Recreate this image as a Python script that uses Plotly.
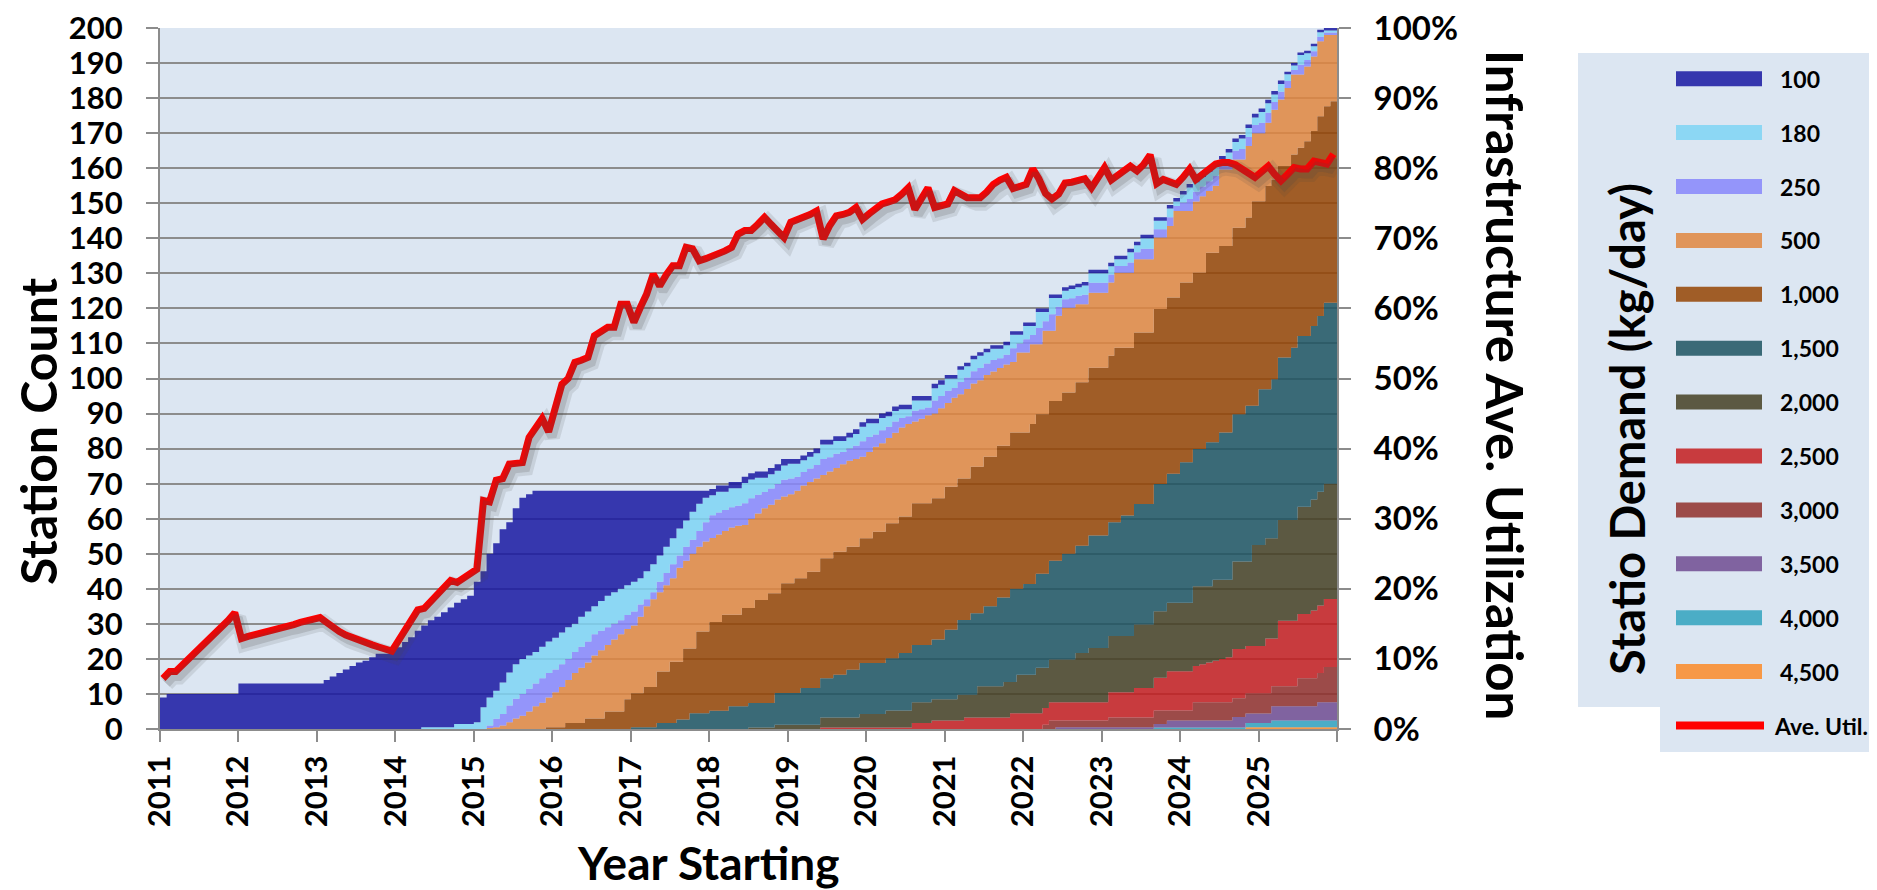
import plotly.graph_objects as go

# ---------------- data ----------------
# monthly, Jan 2011 .. Dec 2025; cumulative top edge of each stacked band
# (station count, bands stacked bottom->top: 4,500 ... 100)
top_4500 = [
    0,0,0,0,0,0,0,0,0,0,0,0,  0,0,0,0,0,0,0,0,0,0,0,0,  0,0,0,0,0,0,0,0,0,0,0,0,
    0,0,0,0,0,0,0,0,0,0,0,0,  0,0,0,0,0,0,0,0,0,0,0,0,  0,0,0,0,0,0,0,0,0,0,0,0,
    0,0,0,0,0,0,0,0,0,0,0,0,  0,0,0,0,0,0,0,0,0,0,0,0,  0,0,0,0,0,0,0,0,0,0,0,0,
    0,0,0,0,0,0,0,0,0,0,0,0,  0,0,0,0,0,0,0,0,0,0,0,0,  0,0,0,0,0,0,0,0,0,0,0,0,
    0,0,0,0,0,0,0,0,0,0,0,0,
    0,0,0,0,0,0,0,0,0,0,0.5,0.5,
    0.5,0.5,0.5,0.5,0.5,0.5,0.5,0.5,0.5,0.5,0.5,0.5,
]
top_4000 = [
    0,0,0,0,0,0,0,0,0,0,0,0,  0,0,0,0,0,0,0,0,0,0,0,0,  0,0,0,0,0,0,0,0,0,0,0,0,
    0,0,0,0,0,0,0,0,0,0,0,0,  0,0,0,0,0,0,0,0,0,0,0,0,  0,0,0,0,0,0,0,0,0,0,0,0,
    0,0,0,0,0,0,0,0,0,0,0,0,  0,0,0,0,0,0,0,0,0,0,0,0,  0,0,0,0,0,0,0,0,0,0,0,0,
    0,0,0,0,0,0,0,0,0,0,0,0,  0,0,0,0,0,0,0,0,0,0,0,0,  0,0,0,0,0,0,0,0,0,0,0,0,
    0,0,0,0,0,0,0,0,0.4,0.4,0.4,0.4,
    0.4,0.4,0.4,0.4,0.4,0.4,0.4,0.4,0.4,0.4,1.7,1.7,
    1.7,1.7,2.4,2.4,2.4,2.4,2.4,2.4,2.4,2.4,2.4,2.4,
]
top_3500 = [
    0,0,0,0,0,0,0,0,0,0,0,0,  0,0,0,0,0,0,0,0,0,0,0,0,  0,0,0,0,0,0,0,0,0,0,0,0,
    0,0,0,0,0,0,0,0,0,0,0,0,  0,0,0,0,0,0,0,0,0,0,0,0,  0,0,0,0,0,0,0,0,0,0,0,0,
    0,0,0,0,0,0,0,0,0,0,0,0,  0,0,0,0,0,0,0,0,0,0,0,0,  0,0,0,0,0,0,0,0,0,0,0,0,
    0,0,0,0,0,0,0,0,0,0,0,0,  0,0,0,0,0,0,0,0,0,0,0,0,
    0,0,0,0,0,0.5,0.5,0.5,0.5,0.5,0.5,0.5,
    0.5,0.5,0.5,0.5,0.5,0.5,0.5,0.5,1.4,1.4,2.4,2.4,
    2.4,2.4,2.4,2.4,2.4,2.4,2.4,2.4,3.4,3.4,4.4,4.4,
    4.4,4.4,6.5,6.5,6.5,6.5,6.5,6.5,6.5,7.6,7.6,7.6,
]
top_3000 = [
    0,0,0,0,0,0,0,0,0,0,0,0,  0,0,0,0,0,0,0,0,0,0,0,0,  0,0,0,0,0,0,0,0,0,0,0,0,
    0,0,0,0,0,0,0,0,0,0,0,0,  0,0,0,0,0,0,0,0,0,0,0,0,  0,0,0,0,0,0,0,0,0,0,0,0,
    0,0,0,0,0,0,0,0,0,0,0,0,  0,0,0,0,0,0,0,0,0,0,0,0,  0,0,0,0,0,0,0,0,0,0,0,0,
    0,0,0,0,0,0,0,0,0,0,0,0,  0,0,0,0,0,0,0,0,0,0,0,0,
    0,0,0,1.2,2.4,2.4,2.4,2.4,2.4,2.4,2.4,2.4,
    2.4,3.3,3.3,3.3,3.3,3.3,3.3,3.3,5.3,5.3,5.3,5.3,
    5.3,5.3,7.6,7.6,7.6,7.6,7.6,7.6,8.8,8.8,10.1,10.1,
    10.1,10.1,12.2,12.2,12.2,12.2,14.5,14.5,14.5,16,17.7,17.7,
]
top_2500 = [
    0,0,0,0,0,0,0,0,0,0,0,0,  0,0,0,0,0,0,0,0,0,0,0,0,  0,0,0,0,0,0,0,0,0,0,0,0,
    0,0,0,0,0,0,0,0,0,0,0,0,  0,0,0,0,0,0,0,0,0,0,0,0,  0,0,0,0,0,0,0,0,0,0,0,0,
    0,0,0,0,0,0,0,0,0,0,0,0,  0,0,0,0,0,0,0,0,0,0,0,0,
    0,0,0,0,0,0.4,0.4,0.4,0.4,0.4,0.4,0.4,
    0.4,0.4,0.4,0.4,0.4,0.4,0.4,1.7,1.7,1.7,2.4,2.4,
    2.4,2.4,2.4,3.3,3.3,3.3,3.3,3.3,3.3,3.3,4.5,4.5,
    4.5,4.5,4.5,6,7.6,7.6,7.6,7.6,7.6,7.6,7.6,7.6,
    7.6,10.5,10.5,10.5,10.5,11.7,11.7,11.7,14.6,14.6,16.5,16.5,
    16.5,16.5,18,18.5,19,19.5,20,20.5,22.8,22.8,23.7,23.7,
    23.7,25.8,25.8,30.9,30.9,30.9,32.8,32.8,33.8,35.2,37.1,37.1,
]
top_2000 = [
    0,0,0,0,0,0,0,0,0,0,0,0,  0,0,0,0,0,0,0,0,0,0,0,0,  0,0,0,0,0,0,0,0,0,0,0,0,
    0,0,0,0,0,0,0,0,0,0,0,0,  0,0,0,0,0,0,0,0,0,0,0,0,  0,0,0,0,0,0,0,0,0,0,0,0,
    0,0,0,0,0,0,0,0,0,0,0,0,
    0,0,0,0,0,0,0.4,0.4,0.4,0.4,1.2,1.2,
    1.2,1.2,1.2,1.2,1.2,3.3,3.3,3.3,3.3,3.3,3.3,4.3,
    4.3,4.3,4.3,5.3,5.3,5.3,5.3,7.6,7.6,7.6,8.5,8.5,
    8.5,8.5,9.8,9.8,9.8,12.2,12.2,12.2,12.2,13.4,13.4,15.5,
    15.5,15.5,17.5,17.5,19.8,19.8,19.8,19.8,21.7,21.7,23.1,23.1,
    23.1,26.5,26.5,26.5,26.5,29.8,29.8,29.8,33.6,33.6,36,36,
    36,36,40.7,40.7,40.7,42.6,42.6,42.6,47.8,47.8,47.8,52.5,
    52.5,54.4,54.4,59.6,59.6,59.6,63.4,63.4,65.5,67.7,70,70,
]
top_1500 = [
    0,0,0,0,0,0,0,0,0,0,0,0,  0,0,0,0,0,0,0,0,0,0,0,0,  0,0,0,0,0,0,0,0,0,0,0,0,
    0,0,0,0,0,0,0,0,0,0,0,0,  0,0,0,0,0,0,0,0,0,0,0,0,  0,0,0,0,0,0,0,0,0,0,0,0,
    0.5,0.5,0.5,0.5,1.7,1.7,1.7,2.7,2.7,4.5,4.5,4.5,
    5.2,5.2,5.2,6.5,6.5,6.5,7.4,7.4,7.4,7.4,10.3,10.3,
    10.3,10.3,11.7,11.7,11.7,14.5,14.5,15.5,15.5,16.9,16.9,18.8,
    18.8,18.8,18.8,20.2,20.2,21.7,21.7,24,24,24,25.5,25.5,
    28.3,28.3,31.1,31.1,33,33,35,35,37.5,37.5,40,40,
    41.4,41.4,44.3,44.3,48,48,50,50,52.3,52.3,55.2,55.2,
    55.2,59,59,60.9,60.9,64.2,64.2,64.2,69.9,69.9,72.8,72.8,
    76.1,76.1,79.9,79.9,81.8,81.8,84.6,84.6,89.8,89.8,92.2,92.2,
    96.9,96.9,99.8,106,106,108.8,112.1,112.1,115,117.8,121.6,121.6,
]
top_1000 = [
    0,0,0,0,0,0,0,0,0,0,0,0,  0,0,0,0,0,0,0,0,0,0,0,0,  0,0,0,0,0,0,0,0,0,0,0,0,
    0,0,0,0,0,0,0,0,0,0,0,0,
    0,0,0,0,0,0,0,0,0,0,0,0.5,
    0.5,0.5,1.7,1.7,1.7,3,3,3,5,5,5,8.5,
    10.2,10.2,12,12,16.4,16.4,19.2,19.2,23,23,27.8,27.8,
    30.5,30.5,32.6,32.6,32.6,34.5,34.5,36.8,36.8,38.7,38.7,41.6,
    41.6,43,43,44.9,44.9,48.7,48.7,50.6,50.6,52,52,54.4,
    54.4,56.3,56.3,58.7,58.7,60.6,60.6,64.4,64.4,64.4,65.8,65.8,
    69.1,69.1,71.5,71.5,74.8,74.8,77.7,77.7,80.8,80.8,84.6,84.6,
    84.6,87,89.8,89.8,93.6,93.6,96,96,98.9,98.9,103.1,103.1,
    103.1,106.5,108.8,108.8,108.8,113.1,113.1,113.1,119.8,119.8,123.1,123.1,
    127.4,127.4,130.2,130.2,135.9,135.9,137.8,137.8,143,143,145.9,150.6,
    150.6,154.9,156.8,160.6,160.6,163.9,165.8,167.7,170.6,174.8,177.7,179.1,
]
top_500 = [
    0,0,0,0,0,0,0,0,0,0,0,0,  0,0,0,0,0,0,0,0,0,0,0,0,  0,0,0,0,0,0,0,0,0,0,0,0,
    0,0,0,0,0,0,0,0,0,0,0,0,
    0,0,0.3,0.5,1,1.9,3,3.8,5,6.5,7.5,9,
    10.5,12,14,16,17.5,19,21,22.5,24,25.5,27,28.5,
    29.5,32,35,37,39,41,43,46,48,50,52,53.5,
    54.5,55.5,56.5,57.5,58,58.2,60,61.5,63,64,65.5,66.3,
    67,68,69.5,70.5,71.5,72.5,73.5,74.5,75.5,76.5,77,77.7,
    79,80.5,81.5,83,84.5,86,87,87.7,88.5,89.5,90,91.5,
    93,94.5,95.5,97,98.6,99.5,101,102,103,104,104.7,107.4,
    107.4,109.8,109.8,113.6,113.6,117.9,120.2,120.2,121.2,121.2,124.5,124.5,
    124.5,127.4,130.2,130.2,130.2,134,134,134,140.2,140.2,143.5,147.8,
    147.8,147.8,150.5,152,153.5,155,159.6,159.6,162.5,162.5,166.3,170,
    170,173,176.7,179.6,182.9,186.7,186.7,189,191.9,196.2,198,198,
]
top_250 = [
    0,0,0,0,0,0,0,0,0,0,0,0,  0,0,0,0,0,0,0,0,0,0,0,0,  0,0,0,0,0,0,0,0,0,0,0,0,
    0,0,0,0,0,0,0,0,0,0,0,0,
    0,0,1,2.9,4.3,6.7,8.6,10,11.5,13,14.5,16,
    17,18.5,20,22,23.5,25,27,28,29,30,31,32.5,
    33.5,35.5,37,39,42,44.5,47,49.5,52,54,56.5,59,
    61,61.8,62.5,63.3,63.7,64.4,65.8,66.8,67.6,68.6,69.9,71.1,
    71.5,72,73.3,74.3,75.3,77,77.5,78.5,79,80,80.8,82.1,
    83.3,84,85.2,86.2,87.7,88.7,89.2,90.8,91.2,91.7,93.7,95,
    96.5,97.3,99,100.3,102.1,103,104.3,105.3,105.8,106.8,108.6,110,
    111.2,112.4,114.4,116.3,118.3,120.5,122.6,122.9,123.6,123.9,127.3,127.3,
    127.3,129.7,132.1,132.1,133.1,136,137,137,142.6,142.6,146,149.2,
    150.2,151.2,153.3,154.8,156.3,157.8,161.1,162.1,165,165.5,168.9,172.3,
    173,175.8,178.9,181.8,184.9,188,189.5,190.9,193.4,197.5,198.7,198.7,
]
top_180 = [
    0,0,0,0,0,0,0,0,0,0,0,0,  0,0,0,0,0,0,0,0,0,0,0,0,  0,0,0,0,0,0,0,0,0,0,0,0,
    0,0,0,0,0.5,0.5,0.5,0.5,0.5,1.4,1.4,1.4,
    1.9,6.2,9,10.9,13.3,16.1,18.5,20,21,22,23.5,25,
    26,27.5,29,30,32,33.5,35,36.5,38,39,40,41,
    42,43,45,47,49.5,52,54.4,57.2,59.5,62,64.3,66,
    66.7,67.7,67.7,68.7,68.7,70.2,71.2,71.7,71.7,72.7,73.7,75.2,
    75.7,75.7,76.7,77.7,78.7,81.2,81.2,82.2,82.2,83.2,84.2,86.2,
    87.2,87.2,88.7,89.2,90.7,91.2,91.2,93.7,93.7,93.7,97.2,98.2,
    100,100,102.5,103.5,105.5,106.5,107.5,108.5,108.5,109.5,112.5,112.5,
    115,115,119,119,123,123,125,125.5,126,126.5,130,130,
    130,132,134,134,136,138,140,140,145,145,148.5,150.5,
    152.5,154.5,156,157.5,159,160.5,162.5,164.5,167.5,168.5,171.5,174.5,
    176,178.5,181,184,186.8,189.3,192.3,192.8,194.8,198.8,199.3,199.3,
]
top_100 = [
    9,10,10,10,10,10,10,10,10,10,10,10,
    13,13,13,13,13,13,13,13,13,13,13,13,
    13,14,15,16,17,18,19,19.5,20.5,21.5,21.5,22.5,
    23.3,24.8,26.2,28,29.5,31,32,33.3,34.7,36,37,38,
    42,45,50,53,57,59,63,66,67,68,68,68,
    68,68,68,68,68,68,68,68,68,68,68,68,
    68,68,68,68,68,68,68,68,68,68,68,68,
    68.5,69.5,69.5,70.5,70.5,72,73,73.5,73.5,74.5,75.5,77,
    77,77,78,79,80,82.5,82.5,83.5,83.5,84.5,85.5,87.5,
    88.5,88.5,90,90.5,92,92.5,92.5,95,95,95,98.5,99.5,
    101,101,103.5,104.5,106.5,107.5,108.5,109.5,109.5,110.5,113.5,113.5,
    116,116,120,120,124,124,126,126.5,127,127.5,131,131,
    131,133,135,135,137,139,141,141,146,146,149.5,151.5,
    153.5,155.5,157,158.5,160,161.5,163.5,165.5,168.5,169.5,172.5,175.5,
    177,179.5,182,185,187.5,190,193,193.5,195.5,199.5,200,200,
]
# infrastructure average utilisation, percent (monthly)
util_pct = [
    7.2,8.2,8.2,9.1,10.0,10.9,11.8,12.7,13.6,14.5,15.5,16.6,
    12.9,13.2,13.4,13.7,13.9,14.2,14.4,14.7,14.9,15.2,15.4,15.6,
    15.9,15.2,14.5,13.9,13.4,13.0,12.6,12.3,12.0,11.7,11.4,11.1,
    12.6,14.2,15.7,17.0,17.2,18.2,19.3,20.3,21.2,20.9,21.6,22.4,
    22.8,32.6,32.4,35.5,35.7,37.8,37.8,38.0,41.6,43.0,44.3,42.4,
    46.0,49.2,50.0,52.3,52.6,53.0,56.1,56.8,57.3,57.3,60.6,60.6,
    58.0,60.2,62.0,64.9,63.2,64.8,66.1,66.1,68.7,68.5,66.8,67.1,
    67.4,67.8,68.2,68.7,70.6,71.1,71.1,72.0,73.0,72.0,71.0,70.1,
    72.3,72.6,73.0,73.4,73.9,69.9,71.8,73.2,73.4,73.7,74.4,72.7,
    73.5,74.3,74.9,75.2,75.5,76.3,77.2,74.1,75.6,77.2,74.4,74.6,
    74.9,76.8,76.3,75.8,75.8,75.8,76.6,77.7,78.3,78.7,77.1,77.4,
    77.7,79.9,78.5,76.4,75.6,76.3,77.9,78.0,78.2,78.5,77.2,78.5,
    80.1,78.3,78.9,79.4,80.3,79.6,80.5,81.9,77.8,78.4,78.1,77.7,
    78.7,79.9,78.4,79.2,80.0,80.6,80.8,80.8,80.5,79.9,79.3,78.7,
    79.5,80.3,79.2,78.2,79.1,80.1,79.9,79.9,81.0,80.8,80.6,82.0,
]
class_labels = ["100", "180", "250", "500", "1,000", "1,500", "2,000",
                "2,500", "3,000", "3,500", "4,000", "4,500"]
year_labels = [str(y) for y in range(2011, 2026)]
pct_labels = [f"{p}%" for p in range(0, 101, 10)]

# ---------------- styling ----------------
class_colors = {
    "100": "rgba(25,23,162,0.85)",
    "180": "rgba(126,212,245,0.85)",
    "250": "rgba(135,134,251,0.85)",
    "500": "rgba(225,134,63,0.85)",
    "1,000": "rgba(149,68,4,0.85)",
    "1,500": "rgba(29,84,98,0.85)",
    "2,000": "rgba(69,63,35,0.85)",
    "2,500": "rgba(196,28,30,0.85)",
    "3,000": "rgba(145,47,44,0.85)",
    "3,500": "rgba(112,75,146,0.85)",
    "4,000": "rgba(49,162,190,0.85)",
    "4,500": "rgba(252,137,40,0.85)",
}
FONT = "Lato"
BG = "#DCE6F2"
GRID = "#8C8C8C"
PAGE = 8                      # page body margin of the html page
W, H = 1877 - PAGE, 890 - PAGE
# plot area in reference-picture pixels
RL, RR, RT, RB = 160, 1337, 28, 729
PL, PR, PT, PB = RL - PAGE, RR - PAGE, RT - PAGE, RB - PAGE


def px(x):
    return (x - RL) / (RR - RL)


def py(y):
    return (RB - y) / (RB - RT)


months = [f"{2011 + i // 12}-{i % 12 + 1:02d}-01" for i in range(len(top_100))]
month_edges = months + ["2026-01-01"]
util_dates = [f"{2011 + i // 12}-{i % 12 + 1:02d}-15" for i in range(len(util_pct))]

tops_bottom_up = [
    ("4,500", top_4500), ("4,000", top_4000), ("3,500", top_3500),
    ("3,000", top_3000), ("2,500", top_2500), ("2,000", top_2000),
    ("1,500", top_1500), ("1,000", top_1000), ("500", top_500),
    ("250", top_250), ("180", top_180), ("100", top_100),
]

fig = go.Figure()
prev = [0] * len(top_100)
for name, top in tops_bottom_up:
    counts = [round(t - p, 3) for t, p in zip(top, prev)]
    prev = top
    fig.add_trace(go.Scatter(
        x=month_edges, y=counts + [counts[-1]], name=name,
        stackgroup="stations", mode="lines",
        line=dict(width=0, shape="hv"),
        fillcolor=class_colors[name], showlegend=False,
        hovertemplate=name + ": %{y}<extra></extra>",
    ))

util_frac = [u / 100 for u in util_pct]
# soft drop shadow under the utilisation line (same data, offset axes)
fig.add_trace(go.Scatter(
    x=util_dates, y=util_frac, xaxis="x3", yaxis="y3", mode="lines",
    line=dict(color="rgba(70,70,70,0.13)", width=16), showlegend=False,
    hoverinfo="skip",
))
fig.add_trace(go.Scatter(
    x=util_dates, y=util_frac, xaxis="x3", yaxis="y3", mode="lines",
    line=dict(color="rgba(70,70,70,0.18)", width=9), showlegend=False,
    hoverinfo="skip",
))
fig.add_trace(go.Scatter(
    x=util_dates, y=util_frac, name="Ave. Util.",
    yaxis="y2", mode="lines", line=dict(color="#FF0000", width=7),
    showlegend=False,
))

tickfont = dict(family=FONT, size=31, color="black", weight="bold")
shadow_dx_days = 16
shadow_dy = 5 / (RB - RT)
fig.update_layout(
    width=W, height=H,
    margin=dict(l=PL, r=W - PR, t=PT, b=H - PB, autoexpand=False),
    paper_bgcolor="white", plot_bgcolor=BG,
    showlegend=False,
    xaxis=dict(
        type="date", range=["2011-01-01", "2026-01-01"],
        tickvals=[f"{y}-01-01" for y in range(2011, 2027)],
        ticktext=year_labels + [""],
        tickangle=-90, tickfont=tickfont,
        ticks="outside", ticklen=11, tickwidth=2, tickcolor=GRID,
        showline=True, linecolor=GRID, linewidth=2,
        showgrid=False, zeroline=False, ticklabelstandoff=1,
        ticklabeloverflow="allow", automargin=False,
    ),
    yaxis=dict(
        range=[0, 200], tickvals=list(range(0, 201, 10)),
        tickfont=tickfont, ticks="outside", ticklen=12, tickwidth=2,
        tickcolor=GRID, showline=True, linecolor=GRID, linewidth=2,
        showgrid=True, gridcolor=GRID, gridwidth=2, zeroline=False,
        ticklabelstandoff=17, ticklabeloverflow="allow", automargin=False,
    ),
    yaxis2=dict(
        overlaying="y", side="right", range=[0, 1],
        tickvals=[p / 100 for p in range(0, 101, 10)], ticktext=pct_labels,
        tickfont=dict(family=FONT, size=33, color="black", weight="bold"),
        ticks="outside", ticklen=12, tickwidth=2, tickcolor=GRID,
        showline=True, linecolor=GRID, linewidth=2,
        showgrid=False, zeroline=False, ticklabelstandoff=16,
        ticklabeloverflow="allow", automargin=False,
    ),
    xaxis3=dict(
        type="date", overlaying="x", visible=False, automargin=False,
        range=[f"2010-12-{32 - shadow_dx_days:02d}", f"2025-12-{32 - shadow_dx_days:02d}"],
    ),
    yaxis3=dict(overlaying="y", visible=False, automargin=False,
                range=[shadow_dy, 1 + shadow_dy]),
)

shapes = []
annotations = []
# axis titles
annotations.append(dict(text="Station Count", x=px(38), y=py(431), xref="paper", yref="paper",
                        textangle=-90, showarrow=False, xanchor="center", yanchor="middle",
                        font=dict(family=FONT, size=50, color="black", weight="bold")))
annotations.append(dict(text="Year Starting", x=px(708), y=py(862), xref="paper", yref="paper",
                        showarrow=False, xanchor="center", yanchor="middle",
                        font=dict(family=FONT, size=46, color="black", weight="bold")))
annotations.append(dict(text="Infrastructure Ave. Utilization", x=px(1506), y=py(385),
                        xref="paper", yref="paper", textangle=90, showarrow=False,
                        xanchor="center", yanchor="middle",
                        font=dict(family=FONT, size=51, color="black", weight="bold")))

# legend panel
shapes.append(dict(type="rect", xref="paper", yref="paper", x0=px(1578), x1=px(1877),
                   y0=py(707), y1=py(53), fillcolor=BG, line=dict(width=0), layer="above"))
shapes.append(dict(type="rect", xref="paper", yref="paper", x0=px(1660), x1=px(1877),
                   y0=py(752), y1=py(700), fillcolor=BG, line=dict(width=0), layer="above"))
annotations.append(dict(text="Statio Demand (kg/day)", x=px(1627), y=py(429), xref="paper",
                        yref="paper", textangle=-90, showarrow=False, xanchor="center",
                        yanchor="middle",
                        font=dict(family=FONT, size=47, color="black", weight="bold")))
row0, row_gap = 78.7, 53.9
for i, name in enumerate(class_labels):
    yc = row0 + row_gap * i
    shapes.append(dict(type="rect", xref="paper", yref="paper", x0=px(1676), x1=px(1762),
                       y0=py(yc + 7.5), y1=py(yc - 7.5), fillcolor=class_colors[name],
                       line=dict(width=0), layer="above"))
    annotations.append(dict(text=name, x=px(1778), y=py(yc), xref="paper", yref="paper",
                            showarrow=False, xanchor="left", yanchor="middle",
                            font=dict(family=FONT, size=23, color="black", weight="bold")))
yc = row0 + row_gap * len(class_labels)
shapes.append(dict(type="line", xref="paper", yref="paper", x0=px(1676), x1=px(1764),
                   y0=py(yc), y1=py(yc), line=dict(color="#FF0000", width=8), layer="above"))
annotations.append(dict(text="Ave. Util.", x=px(1772), y=py(yc), xref="paper", yref="paper",
                        showarrow=False, xanchor="left", yanchor="middle",
                        font=dict(family=FONT, size=23, color="black", weight="bold")))

fig.update_layout(shapes=shapes, annotations=annotations)
fig.write_html("out.html")
